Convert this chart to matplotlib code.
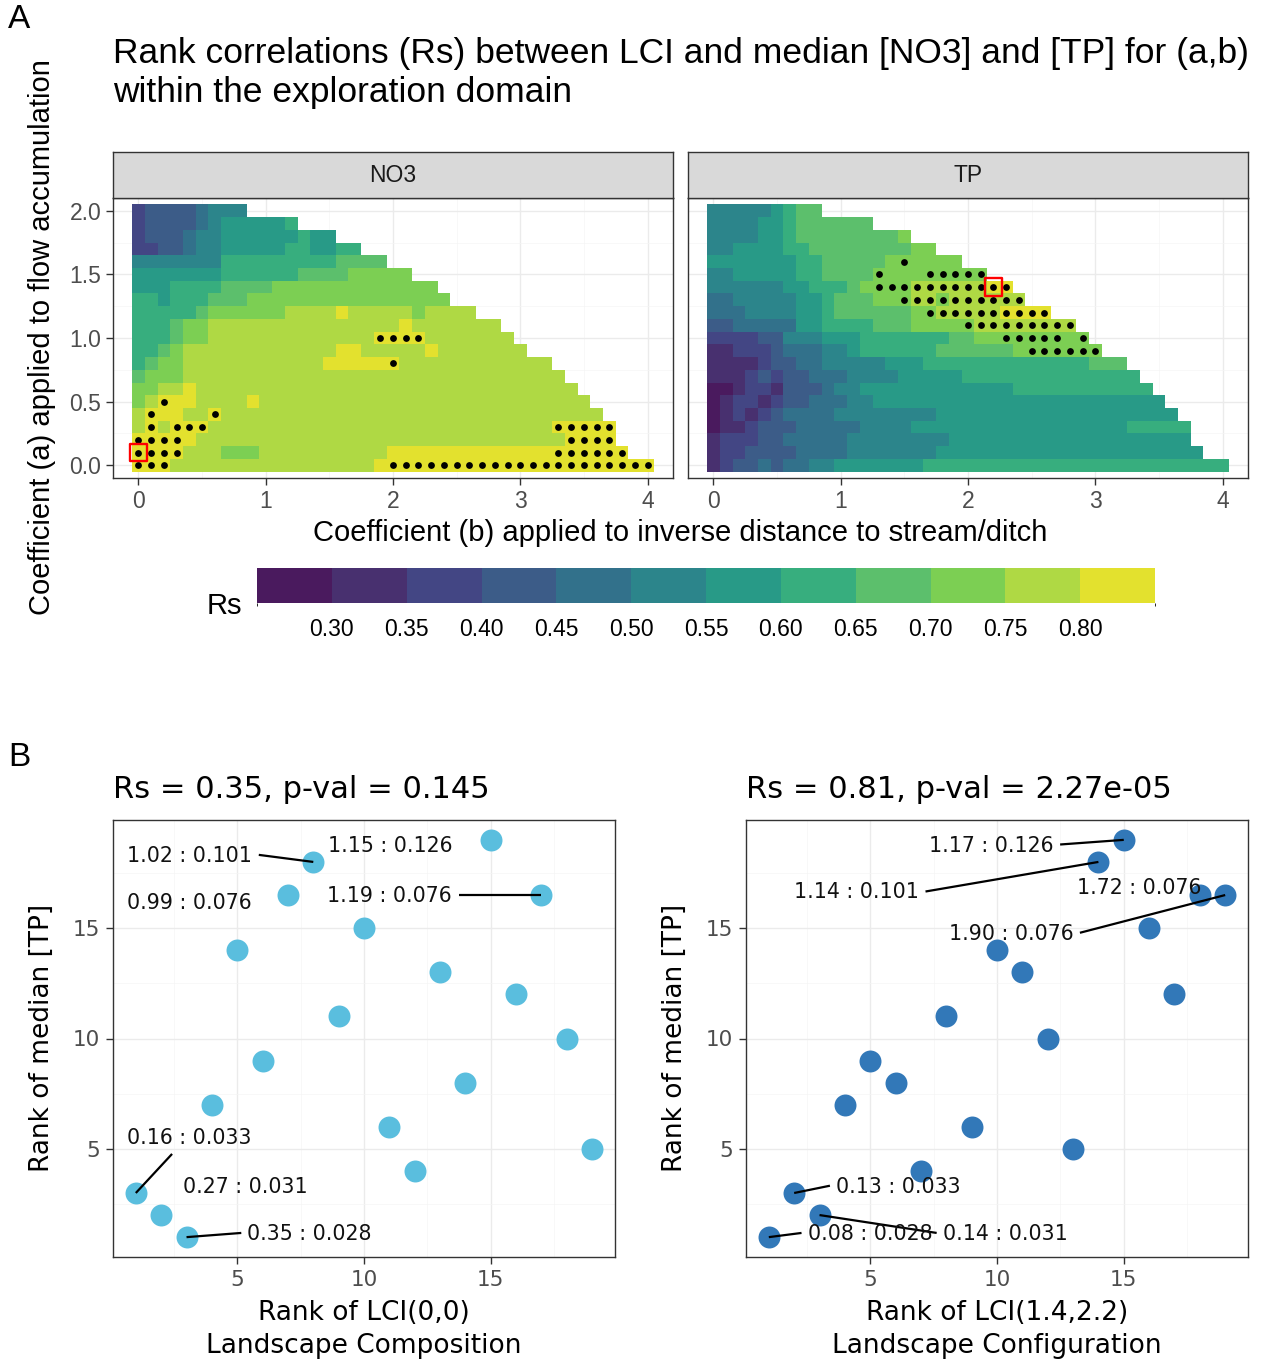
import numpy as np
import matplotlib
matplotlib.use("Agg")
import matplotlib.pyplot as plt
from matplotlib.colors import ListedColormap, BoundaryNorm
from matplotlib.cm import ScalarMappable
from matplotlib.ticker import FixedLocator

# ============================ DATA ============================
# Exploration grid: coefficient a (rows, top -> bottom) and b (columns)
a_values = [2.0, 1.9, 1.8, 1.7, 1.6, 1.5, 1.4, 1.3, 1.2, 1.1, 1.0,
            0.9, 0.8, 0.7, 0.6, 0.5, 0.4, 0.3, 0.2, 0.1, 0.0]
b_values = np.round(np.arange(41) * 0.1, 1)

# Rs classes of the binned legend
rs_breaks = [0.25, 0.30, 0.35, 0.40, 0.45, 0.50, 0.55, 0.60, 0.65, 0.70, 0.75, 0.80, 0.85]
rs_levels = [0.275, 0.325, 0.375, 0.425, 0.475, 0.525, 0.575, 0.625, 0.675, 0.725, 0.775, 0.825]
rs_ticks = [0.30, 0.35, 0.40, 0.45, 0.50, 0.55, 0.60, 0.65, 0.70, 0.75, 0.80]
rs_colors = ["#4A1A5E", "#48306F", "#434684", "#3C5C88", "#32718B", "#2C858B",
             "#289A87", "#37AE7E", "#5CBF6C", "#7CCF53", "#AFD944", "#E3E12E"]

# Rs class per cell (hex digit = index into rs_levels), one string per a row,
# character k = b value k*0.1 ; row length = extent of the exploration domain
no3_rs_codes = [
    "233334555",
    "2333345666667",
    "2333455666666766",
    "223345566666776677",
    "5555555777" "7777778888",
    "6666666777" "7778888999" "99",
    "6667777888" "8999999999" "9999",
    "7767778889" "9999999999" "99999",
    "7777789999" "99aaaabaaa" "aa9aaaa",
    "777899aaaa" "aaaaaaaaaa" "abaaaaaaa",
    "777899aaaa" "aaaaaaaaab" "bbbaaaaaaa",
    "7789aaaaaa" "aaaaaabbaa" "aaabaaaaaa" "a",
    "7899aaaaaa" "aaaaabbbbb" "baaaaaaaaa" "aaa",
    "8999aaaaaa" "aaaaaaaaaa" "aaaaaaaaaa" "aaaa",
    "99aabaaaaa" "aaaaaaaaaa" "aaaaaaaaaa" "aaaaa",
    "9abbbaaaab" "aaaaaaaaaa" "aaaaaaaaaa" "aaaaaa",
    "abbbaabaaa" "aaaaaaaaaa" "aaaaaaaaaa" "aaaaaaa",
    "ababbbaaaa" "aaaaaaaaaa" "aaaaaaaaaa" "aaabbbbb",
    "bbbbbaaaaa" "aaaaaaaaaa" "aaaaaaaaaa" "aaaabbbb",
    "bbbbaaa999" "aaaaaaaaaa" "bbbbbbbbbb" "bbbbbbbbb",
    "bbbaaaaaaa" "aaaaaaaaab" "bbbbbbbbbb" "bbbbbbbbbb" "b",
]
tp_rs_codes = [
    "555556788",
    "5555667888888",
    "5555667888888889",
    "556666778888888899",
    "6666666778" "8888999999",
    "5566666778" "8889999999" "99",
    "5555556677" "789999aaaa" "aabb",
    "4455555667" "888999aa9a" "aaaaa",
    "4445555667" "88888899aa" "aaabbbb",
    "3344444667" "7778889999" "9aaaaaaaa",
    "2222335556" "6677777778" "8999999999",
    "1122234445" "5677777788" "8888999999" "9",
    "1111233445" "5555666777" "7777777777" "888",
    "1112323344" "4555566666" "77777777777777",
    "0012213334" "5566666666" "6666777777" "77777",
    "0122123344" "4556666666" "6666666666" "666666",
    "0121234444" "5555555566" "6666666666" "6666666",
    "0112333444" "4455556666" "6666666666" "66677777",
    "1222334444" "4555555556" "6666666666" "66666666",
    "1223333444" "4555555566" "6666666666" "666666666",
    "1233434455" "6666666777" "7777777777" "7777777777" "7",
]

# Cells flagged with a black dot ('*'), per a value, character k = b value k*0.1
no3_flag_masks = {
    1.0: ".........." ".........*" "***",
    0.8: ".........." ".........." "*",
    0.5: "..*",
    0.4: ".*....*",
    0.3: ".*.***...." ".........." ".........." "...*****",
    0.2: "****......" ".........." ".........." "....****",
    0.1: "****......" ".........." ".........." "...******",
    0.0: "***......." ".........." "**********" "**********" "*",
}
tp_flag_masks = {
    1.6: ".........." ".....*",
    1.5: ".........." "...*...***" "**",
    1.4: ".........." "...*******" "****",
    1.3: ".........." ".....*****" "*****",
    1.2: ".........." ".......***" "*******",
    1.1: ".........." ".........." "*********",
    1.0: ".........." ".........." "...*****.*",
    0.9: ".........." ".........." ".....*****" "*",
}
# selected (b, a) combinations (red squares)
no3_selected = (0.0, 0.1)
tp_selected = (2.2, 1.4)

# ---- panel B: ranks of 19 sites ----
lci_rank = [1, 2, 3, 4, 5, 6, 7, 8, 9, 10, 11, 12, 13, 14, 15, 16, 17, 18, 19]
tp_rank_vs_composition = [3, 2, 1, 7, 14, 9, 16.5, 18, 11, 15, 6, 4, 13, 8, 19, 12, 16.5, 10, 5]
tp_rank_vs_configuration = [1, 3, 2, 7, 9, 8, 4, 11, 6, 14, 13, 10, 5, 18, 19, 15, 12, 16.5, 16.5]

comp_label_text = ["1.02 : 0.101", "1.15 : 0.126", "0.99 : 0.076", "1.19 : 0.076",
                   "0.16 : 0.033", "0.27 : 0.031", "0.35 : 0.028"]
comp_label_site = [8, 15, 7, 17, 1, 2, 3]          # LCI rank of labelled site
conf_label_text = ["1.17 : 0.126", "1.14 : 0.101", "1.72 : 0.076", "1.90 : 0.076",
                   "0.13 : 0.033", "0.08 : 0.028", "0.14 : 0.031"]
conf_label_site = [15, 14, 18, 19, 2, 1, 3]

comp_title = "Rs = 0.35, p-val = 0.145"
conf_title = "Rs = 0.81, p-val = 2.27e-05"

# ============================ LAYOUT ============================
# label anchor (x, y) and segment start (or None) in data units
comp_label_pos = [(3.12, 18.29), (11.05, 18.74), (3.12, 16.14), (11.01, 16.44),
                  (3.12, 5.49), (5.30, 3.27), (7.85, 1.12)]
comp_seg_start = [(5.85, 18.32), None, None, (13.74, 16.50), (2.43, 4.77), None, (5.16, 1.19)]
conf_label_pos = [(9.76, 18.74), (4.47, 16.62), (15.60, 16.82), (10.55, 14.74),
                  (6.09, 3.27), (5.02, 1.12), (10.35, 1.12)]
conf_seg_start = [(12.49, 18.79), (7.18, 16.66), None, (13.27, 14.79),
                  (3.41, 3.33), (2.29, 1.19), (7.62, 1.19)]

W, H = 1265, 1362
plt.rcParams["font.family"] = ["Liberation Sans", "DejaVu Sans"]
fig = plt.figure(figsize=(W / 100, H / 100), dpi=100)
fig.patch.set_facecolor("white")


def px_axes(x0, y0, x1, y1):
    return fig.add_axes([x0 / W, 1 - y1 / H, (x1 - x0) / W, (y1 - y0) / H])


def ftxt(x, y, s, **kw):
    return fig.text(x / W, 1 - y / H, s, **kw)


cmap = ListedColormap(rs_colors)
norm = BoundaryNorm(rs_breaks, cmap.N)

BORDER = "#333333"
GRID_MAJ = "#EBEBEB"
GRID_MIN = "#F5F5F5"
TICKTXT = "#4D4D4D"


def style_frame(ax):
    for sp in ax.spines.values():
        sp.set_color(BORDER)
        sp.set_linewidth(1.0)
    ax.set_axisbelow(True)
    ax.grid(which="major", color=GRID_MAJ, lw=1.0, zorder=0)
    ax.grid(which="minor", color=GRID_MIN, lw=0.5, zorder=0)
    ax.tick_params(which="minor", length=0)


def draw_heat(ax, codes, masks, selected, show_y):
    a_sorted = sorted(a_values)
    Z = np.full((len(a_sorted), len(b_values)), np.nan)
    for a, row in zip(a_values, codes):
        j = a_sorted.index(a)
        for k, ch in enumerate(row):
            Z[j, k] = rs_levels[int(ch, 16)]
    b_edges = np.append(b_values - 0.05, b_values[-1] + 0.05)
    a_edges = np.append(np.array(a_sorted) - 0.05, a_sorted[-1] + 0.05)
    ax.pcolormesh(b_edges, a_edges, np.ma.masked_invalid(Z), cmap=cmap, norm=norm,
                  shading="flat", antialiased=False, edgecolors="none", zorder=2)
    fx, fy = [], []
    for a, m in masks.items():
        for k, ch in enumerate(m):
            if ch == "*":
                fx.append(b_values[k])
                fy.append(a)
    ax.scatter(fx, fy, s=24, color="black", lw=0, zorder=3)
    ax.scatter([selected[0]], [selected[1]], marker="s", s=165, facecolor="none",
               edgecolor="#FF0000", lw=1.7, zorder=4)
    ax.set_xlim(-0.2, 4.2)
    ax.set_ylim(-0.1, 2.1)
    ax.set_xticks([0, 1, 2, 3, 4])
    ax.set_xticklabels(["0", "1", "2", "3", "4"])
    ax.xaxis.set_minor_locator(FixedLocator([0.5, 1.5, 2.5, 3.5]))
    ax.set_yticks([0, 0.5, 1, 1.5, 2])
    ax.set_yticklabels(["0.0", "0.5", "1.0", "1.5", "2.0"])
    ax.yaxis.set_minor_locator(FixedLocator([0.25, 0.75, 1.25, 1.75]))
    style_frame(ax)
    ax.tick_params(which="major", length=5, width=1.0, color=BORDER,
                   labelcolor=TICKTXT, labelsize=16.5, pad=3.5)
    if not show_y:
        ax.tick_params(axis="y", which="both", length=0, labelleft=False)


def strip(x0, x1, label):
    sax = px_axes(x0, 152, x1, 198)
    sax.set_facecolor("#D9D9D9")
    sax.set_xticks([])
    sax.set_yticks([])
    for sp in sax.spines.values():
        sp.set_color(BORDER)
        sp.set_linewidth(1.0)
    sax.text(0.5, 0.5, label, ha="center", va="center", fontsize=16.5,
             color="#1A1A1A", transform=sax.transAxes)


# ---------------- Panel A ----------------
ax_no3 = px_axes(113, 198, 673, 478)
draw_heat(ax_no3, no3_rs_codes, no3_flag_masks, no3_selected, True)
ax_tp = px_axes(688, 198, 1248, 478)
draw_heat(ax_tp, tp_rs_codes, tp_flag_masks, tp_selected, False)
strip(113, 673, "NO3")
strip(688, 1248, "TP")

ftxt(19, 20, "A", fontsize=24, ha="center", va="center")
ftxt(113, 63, "Rank correlations (Rs) between LCI and median [NO3] and [TP] for (a,b)",
     fontsize=25.5, ha="left", va="baseline")
ftxt(113, 102, "within the exploration domain", fontsize=25.5, ha="left", va="baseline")
ftxt(42, 337, "Coefficient (a) applied to flow accumulation", fontsize=21,
     rotation=90, ha="center", va="center")
ftxt(680, 533, "Coefficient (b) applied to inverse distance to stream/ditch",
     fontsize=21, ha="center", va="center")

cax = px_axes(257, 568, 1155, 603)
sm = ScalarMappable(norm=norm, cmap=cmap)
cb = fig.colorbar(sm, cax=cax, orientation="horizontal", boundaries=rs_breaks,
                  ticks=rs_ticks, spacing="uniform")
cb.outline.set_visible(False)
cb.ax.tick_params(length=0, labelsize=16.5, pad=11, labelcolor="black")
cb.ax.set_xticklabels(["%.2f" % t for t in rs_ticks])
ftxt(224, 606, "Rs", fontsize=21, ha="center", va="center")

# ---------------- Panel B ----------------
ftxt(19, 757, "B", fontsize=24, ha="center", va="center")
DJ = "DejaVu Sans"


def scatter_panel(x0, x1, yvals, color, texts, sites, lpos, segs, title, xl1, xl2):
    ax = px_axes(x0, 820, x1, 1257)
    ax.scatter(lci_rank, yvals, s=250, color=color, lw=0, zorder=3)
    for t, site, p, s in zip(texts, sites, lpos, segs):
        px = lci_rank[lci_rank.index(site)]
        py = yvals[lci_rank.index(site)]
        if s is not None:
            ax.plot([s[0], px], [s[1], py], color="black", lw=1.6,
                    solid_capstyle="butt", zorder=4)
        ax.text(p[0], p[1], t, ha="center", va="center", fontsize=14.8,
                family=DJ, color="#111111", zorder=5)
    ax.set_xlim(0.1, 19.9)
    ax.set_ylim(0.1, 19.9)
    ax.set_xticks([5, 10, 15])
    ax.set_yticks([5, 10, 15])
    ax.xaxis.set_minor_locator(FixedLocator([2.5, 7.5, 12.5, 17.5]))
    ax.yaxis.set_minor_locator(FixedLocator([2.5, 7.5, 12.5, 17.5]))
    style_frame(ax)
    ax.tick_params(which="major", length=5, width=1.0, color=BORDER,
                   labelcolor=TICKTXT, labelsize=15.5, pad=4.5, labelfontfamily=DJ)
    ftxt(x0, 798, title, fontsize=22, family=DJ, ha="left", va="baseline")
    cx = (x0 + x1) / 2
    ftxt(cx, 1313, xl1, fontsize=19, family=DJ, ha="center", va="center")
    ftxt(cx, 1346, xl2, fontsize=19, family=DJ, ha="center", va="center")
    ftxt(x0 - 71, 1038, "Rank of median [TP]", fontsize=19, family=DJ,
         rotation=90, ha="center", va="center")
    return ax


scatter_panel(113, 615, tp_rank_vs_composition, "#5ABEDE", comp_label_text,
              comp_label_site, comp_label_pos, comp_seg_start, comp_title,
              "Rank of LCI(0,0)", "Landscape Composition")
scatter_panel(746, 1248, tp_rank_vs_configuration, "#3278B8", conf_label_text,
              conf_label_site, conf_label_pos, conf_seg_start, conf_title,
              "Rank of LCI(1.4,2.2)", "Landscape Configuration")

fig.savefig("out.png", dpi=100, facecolor="white")
